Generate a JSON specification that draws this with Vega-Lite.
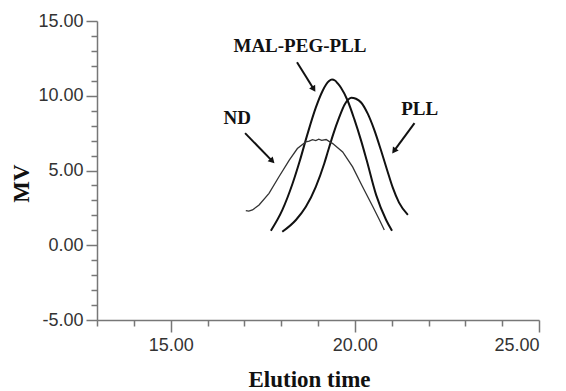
{
  "$schema": "https://vega.github.io/schema/vega-lite/v6.json",
  "autosize": {"type": "none"},
  "width": 442,
  "height": 299,
  "padding": {"left": 97, "top": 21, "right": 27, "bottom": 71},
  "background": "white",
  "config": {"view": {"stroke": null}},
  "resolve": {"axis": {"x": "independent", "y": "independent"}},
  "datasets": {
    "curves": [
      {"sample": "MAL-PEG-PLL", "time": 17.72, "mv": 0.97},
      {"sample": "MAL-PEG-PLL", "time": 18.03, "mv": 2.35},
      {"sample": "MAL-PEG-PLL", "time": 18.31, "mv": 4.13},
      {"sample": "MAL-PEG-PLL", "time": 18.5, "mv": 5.6},
      {"sample": "MAL-PEG-PLL", "time": 18.71, "mv": 7.4},
      {"sample": "MAL-PEG-PLL", "time": 18.94, "mv": 9.2},
      {"sample": "MAL-PEG-PLL", "time": 19.12, "mv": 10.3},
      {"sample": "MAL-PEG-PLL", "time": 19.22, "mv": 10.75},
      {"sample": "MAL-PEG-PLL", "time": 19.3, "mv": 10.98},
      {"sample": "MAL-PEG-PLL", "time": 19.38, "mv": 11.08},
      {"sample": "MAL-PEG-PLL", "time": 19.46, "mv": 11.02},
      {"sample": "MAL-PEG-PLL", "time": 19.53, "mv": 10.84},
      {"sample": "MAL-PEG-PLL", "time": 19.62, "mv": 10.55},
      {"sample": "MAL-PEG-PLL", "time": 19.8, "mv": 9.7},
      {"sample": "MAL-PEG-PLL", "time": 19.99, "mv": 8.4},
      {"sample": "MAL-PEG-PLL", "time": 20.17, "mv": 7.0},
      {"sample": "MAL-PEG-PLL", "time": 20.32, "mv": 5.7},
      {"sample": "MAL-PEG-PLL", "time": 20.58, "mv": 3.35},
      {"sample": "MAL-PEG-PLL", "time": 20.85, "mv": 1.69},
      {"sample": "MAL-PEG-PLL", "time": 21.01, "mv": 0.97},
      {"sample": "PLL", "time": 18.03, "mv": 0.9},
      {"sample": "PLL", "time": 18.4, "mv": 1.69},
      {"sample": "PLL", "time": 18.67, "mv": 2.57},
      {"sample": "PLL", "time": 18.94, "mv": 3.91},
      {"sample": "PLL", "time": 19.17, "mv": 5.47},
      {"sample": "PLL", "time": 19.26, "mv": 6.2},
      {"sample": "PLL", "time": 19.41, "mv": 7.4},
      {"sample": "PLL", "time": 19.58, "mv": 8.58},
      {"sample": "PLL", "time": 19.72, "mv": 9.4},
      {"sample": "PLL", "time": 19.81, "mv": 9.72},
      {"sample": "PLL", "time": 19.9, "mv": 9.87},
      {"sample": "PLL", "time": 20.03, "mv": 9.8},
      {"sample": "PLL", "time": 20.17, "mv": 9.55},
      {"sample": "PLL", "time": 20.35, "mv": 8.8},
      {"sample": "PLL", "time": 20.53, "mv": 7.7},
      {"sample": "PLL", "time": 20.71, "mv": 6.35},
      {"sample": "PLL", "time": 20.88, "mv": 5.0},
      {"sample": "PLL", "time": 21.03, "mv": 3.85},
      {"sample": "PLL", "time": 21.2, "mv": 2.85},
      {"sample": "PLL", "time": 21.44, "mv": 2.03},
      {"sample": "ND", "time": 17.04, "mv": 2.31},
      {"sample": "ND", "time": 17.12, "mv": 2.28},
      {"sample": "ND", "time": 17.22, "mv": 2.36},
      {"sample": "ND", "time": 17.4, "mv": 2.69},
      {"sample": "ND", "time": 17.67, "mv": 3.47},
      {"sample": "ND", "time": 17.94, "mv": 4.58},
      {"sample": "ND", "time": 18.22, "mv": 5.69},
      {"sample": "ND", "time": 18.44, "mv": 6.47},
      {"sample": "ND", "time": 18.67, "mv": 6.91},
      {"sample": "ND", "time": 18.76, "mv": 6.96},
      {"sample": "ND", "time": 18.85, "mv": 7.06},
      {"sample": "ND", "time": 18.94, "mv": 7.0},
      {"sample": "ND", "time": 19.02, "mv": 7.1},
      {"sample": "ND", "time": 19.1, "mv": 7.02},
      {"sample": "ND", "time": 19.22, "mv": 7.07},
      {"sample": "ND", "time": 19.3, "mv": 6.95},
      {"sample": "ND", "time": 19.4, "mv": 6.8},
      {"sample": "ND", "time": 19.67, "mv": 6.24},
      {"sample": "ND", "time": 19.94, "mv": 5.24},
      {"sample": "ND", "time": 20.21, "mv": 3.91},
      {"sample": "ND", "time": 20.49, "mv": 2.58},
      {"sample": "ND", "time": 20.67, "mv": 1.69},
      {"sample": "ND", "time": 20.8, "mv": 1.02}
    ],
    "labels": [
      {"text": "MAL-PEG-PLL", "time": 18.51, "mv": 13.35},
      {"text": "ND", "time": 16.81, "mv": 8.5},
      {"text": "PLL", "time": 21.76, "mv": 9.14}
    ],
    "arrows": [
      {"name": "MAL-PEG-PLL", "x1": 18.43, "y1": 12.24, "x2": 18.87, "y2": 10.5},
      {"name": "ND", "x1": 17.02, "y1": 7.5, "x2": 17.74, "y2": 5.68},
      {"name": "PLL", "x1": 21.62, "y1": 8.17, "x2": 21.08, "y2": 6.36}
    ]
  },
  "layer": [
    {
      "data": {"name": "curves"},
      "mark": {"type": "line", "interpolate": "monotone", "color": "#111111", "strokeWidth": 2},
      "transform": [{"filter": "datum.sample !== 'ND'"}],
      "encoding": {
        "x": {
          "field": "time", "type": "quantitative",
          "scale": {"domain": [13, 25], "nice": false, "zero": false},
          "axis": {
            "orient": "bottom",
            "title": "Elution time",
            "values": [15, 20, 25],
            "format": ".2f",
            "labelOverlap": false,
            "tickSize": 12,
            "labelPadding": 4,
            "grid": false,
            "domainColor": "#777777",
            "tickColor": "#777777",
            "tickWidth": 1.5,
            "domainWidth": 1.5,
            "labelFont": "Liberation Sans",
            "labelFontSize": 18,
            "labelColor": "#333333",
            "titleFont": "Liberation Serif",
            "titleFontWeight": "bold",
            "titleFontSize": 23,
            "titleColor": "#111111",
            "titleX": 212,
            "titleY": 59,
            "titleBaseline": "middle",
            "titleAlign": "center"
          }
        },
        "y": {
          "field": "mv", "type": "quantitative",
          "scale": {"domain": [-5, 15], "nice": false, "zero": false},
          "axis": {
            "orient": "left",
            "title": "MV",
            "values": [-5, 0, 5, 10, 15],
            "labelExpr": "datum.value < 0 ? '-' + format(-datum.value, '.2f') : format(datum.value, '.2f')",
            "labelOverlap": false,
            "tickSize": 11,
            "labelPadding": 3,
            "grid": false,
            "domainColor": "#777777",
            "tickColor": "#777777",
            "tickWidth": 1.5,
            "domainWidth": 1.5,
            "labelFont": "Liberation Sans",
            "labelFontSize": 18,
            "labelColor": "#333333",
            "titleFont": "Liberation Serif",
            "titleFontWeight": "bold",
            "titleFontSize": 23,
            "titleColor": "#111111",
            "titleX": -76,
            "titleY": 162,
            "titleBaseline": "middle",
            "titleAlign": "center",
            "titleAngle": -90
          }
        },
        "detail": {"field": "sample"}
      }
    },
    {
      "data": {"name": "curves"},
      "mark": {"type": "line", "interpolate": "linear", "color": "#333333", "strokeWidth": 1.3},
      "transform": [{"filter": "datum.sample === 'ND'"}],
      "encoding": {
        "x": {
          "field": "time", "type": "quantitative",
          "axis": {
            "orient": "bottom",
            "title": null,
            "values": [13, 14, 16, 17, 18, 19, 21, 22, 23, 24],
            "labels": false,
            "domain": false,
            "grid": false,
            "labelOverlap": false,
            "tickSize": 6,
            "tickColor": "#777777",
            "tickWidth": 1.5
          }
        },
        "y": {
          "field": "mv", "type": "quantitative",
          "axis": {
            "orient": "left",
            "title": null,
            "values": [-4, -3, -2, -1, 1, 2, 3, 4, 6, 7, 8, 9, 11, 12, 13, 14],
            "labels": false,
            "domain": false,
            "grid": false,
            "labelOverlap": false,
            "tickSize": 6,
            "tickColor": "#777777",
            "tickWidth": 1.5
          }
        }
      }
    },
    {
      "data": {"name": "labels"},
      "mark": {"type": "text", "font": "Liberation Serif", "fontWeight": "bold", "fontSize": 19, "color": "#111111", "baseline": "middle", "align": "center"},
      "encoding": {
        "x": {"field": "time", "type": "quantitative", "axis": null},
        "y": {"field": "mv", "type": "quantitative", "axis": null},
        "text": {"field": "text"}
      }
    },
    {
      "data": {"name": "arrows"},
      "mark": {"type": "rule", "color": "#111111", "strokeWidth": 2},
      "encoding": {
        "x": {"field": "x1", "type": "quantitative", "axis": null},
        "y": {"field": "y1", "type": "quantitative", "axis": null},
        "x2": {"field": "x2"},
        "y2": {"field": "y2"}
      }
    },
    {
      "data": {"name": "arrows"},
      "transform": [{"filter": "datum.name === 'MAL-PEG-PLL'"}],
      "mark": {"type": "point", "shape": "triangle", "filled": true, "color": "#111111", "size": 50, "angle": 148, "opacity": 1},
      "encoding": {
        "x": {"field": "x2", "type": "quantitative", "axis": null},
        "y": {"field": "y2", "type": "quantitative", "axis": null}
      }
    },
    {
      "data": {"name": "arrows"},
      "transform": [{"filter": "datum.name === 'ND'"}],
      "mark": {"type": "point", "shape": "triangle", "filled": true, "color": "#111111", "size": 50, "angle": 136, "opacity": 1},
      "encoding": {
        "x": {"field": "x2", "type": "quantitative", "axis": null},
        "y": {"field": "y2", "type": "quantitative", "axis": null}
      }
    },
    {
      "data": {"name": "arrows"},
      "transform": [{"filter": "datum.name === 'PLL'"}],
      "mark": {"type": "point", "shape": "triangle", "filled": true, "color": "#111111", "size": 50, "angle": 216, "opacity": 1},
      "encoding": {
        "x": {"field": "x2", "type": "quantitative", "axis": null},
        "y": {"field": "y2", "type": "quantitative", "axis": null}
      }
    }
  ]
}
